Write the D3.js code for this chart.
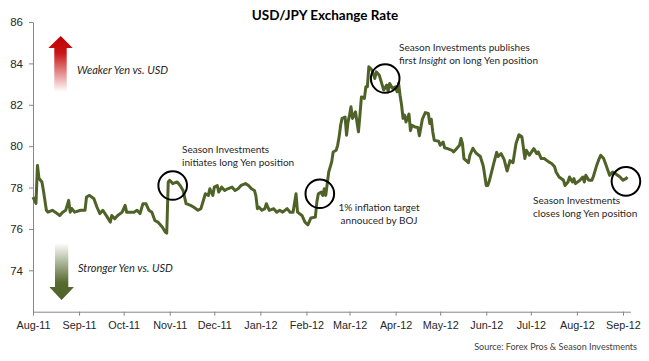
<!DOCTYPE html>
<html>
<head>
<meta charset="utf-8">
<script src="https://cdn.jsdelivr.net/npm/d3@7"></script>
<style>
  body { margin: 0; background: #fff; }
  svg { display: block; font-family: Lato, "Open Sans", sans-serif; }
  .axis path, .axis line { stroke: #868686; }
  .axis text { fill: #262626; font-size: 10.8px; }
</style>
</head>
<body>
<div id="chart"></div>
<script>
const width = 649, height = 361;

// daily USD/JPY closes
const dates = ["2011-08-01","2011-08-03","2011-08-04","2011-08-05","2011-08-07","2011-08-08","2011-08-10","2011-08-11","2011-08-14","2011-08-16","2011-08-19","2011-08-21","2011-08-23","2011-08-25","2011-08-26","2011-08-27","2011-08-29","2011-09-02","2011-09-05","2011-09-06","2011-09-08","2011-09-11","2011-09-13","2011-09-15","2011-09-17","2011-09-20","2011-09-22","2011-09-23","2011-09-25","2011-09-27","2011-09-30","2011-10-02","2011-10-03","2011-10-05","2011-10-08","2011-10-10","2011-10-12","2011-10-14","2011-10-16","2011-10-18","2011-10-20","2011-10-22","2011-10-24","2011-10-27","2011-10-29","2011-10-30","2011-10-31","2011-11-01","2011-11-03","2011-11-06","2011-11-08","2011-11-10","2011-11-11","2011-11-12","2011-11-15","2011-11-17","2011-11-20","2011-11-22","2011-11-25","2011-11-27","2011-11-28","2011-11-30","2011-12-01","2011-12-03","2011-12-04","2011-12-06","2011-12-08","2011-12-10","2011-12-13","2011-12-15","2011-12-17","2011-12-19","2011-12-22","2011-12-24","2011-12-26","2011-12-28","2011-12-29","2011-12-30","2011-12-31","2012-01-02","2012-01-04","2012-01-05","2012-01-07","2012-01-10","2012-01-12","2012-01-14","2012-01-16","2012-01-19","2012-01-21","2012-01-23","2012-01-25","2012-01-26","2012-01-29","2012-01-31","2012-02-02","2012-02-04","2012-02-07","2012-02-08","2012-02-09","2012-02-11","2012-02-12","2012-02-13","2012-02-14","2012-02-16","2012-02-18","2012-02-19","2012-02-21","2012-02-22","2012-02-23","2012-02-24","2012-02-25","2012-02-27","2012-02-28","2012-02-29","2012-03-01","2012-03-02","2012-03-03","2012-03-05","2012-03-06","2012-03-07","2012-03-08","2012-03-09","2012-03-11","2012-03-12","2012-03-13","2012-03-14","2012-03-16","2012-03-18","2012-03-19","2012-03-21","2012-03-23","2012-03-24","2012-03-26","2012-03-27","2012-03-28","2012-03-30","2012-04-01","2012-04-02","2012-04-03","2012-04-04","2012-04-05","2012-04-06","2012-04-07","2012-04-08","2012-04-10","2012-04-11","2012-04-12","2012-04-14","2012-04-16","2012-04-17","2012-04-19","2012-04-21","2012-04-23","2012-04-24","2012-04-25","2012-04-26","2012-04-27","2012-04-30","2012-05-01","2012-05-03","2012-05-04","2012-05-06","2012-05-09","2012-05-10","2012-05-12","2012-05-14","2012-05-15","2012-05-16","2012-05-17","2012-05-20","2012-05-21","2012-05-23","2012-05-25","2012-05-28","2012-05-30","2012-06-01","2012-06-02","2012-06-03","2012-06-06","2012-06-08","2012-06-09","2012-06-11","2012-06-13","2012-06-15","2012-06-17","2012-06-19","2012-06-21","2012-06-23","2012-06-25","2012-06-27","2012-06-28","2012-06-30","2012-07-03","2012-07-05","2012-07-06","2012-07-08","2012-07-10","2012-07-13","2012-07-15","2012-07-17","2012-07-18","2012-07-20","2012-07-23","2012-07-24","2012-07-26","2012-07-27","2012-07-29","2012-07-30","2012-07-31","2012-08-03","2012-08-05","2012-08-06","2012-08-07","2012-08-09","2012-08-11","2012-08-12","2012-08-14","2012-08-16","2012-08-17","2012-08-19","2012-08-21","2012-08-23","2012-08-25","2012-08-27","2012-08-30","2012-09-01","2012-09-03","2012-09-04"];
const rates = [77.54,77.23,79.07,78.45,78.27,77.86,76.90,76.81,76.90,76.81,76.65,76.81,76.90,77.38,76.81,76.99,76.81,76.90,76.90,77.54,77.62,77.46,77.06,76.74,76.90,76.57,76.33,76.65,76.49,76.65,76.81,77.14,76.81,76.81,76.81,76.90,76.74,77.22,77.22,76.90,76.81,76.41,76.33,76.09,75.85,75.80,78.27,78.35,78.19,78.27,78.10,77.86,77.54,77.22,77.14,77.06,76.90,76.98,77.70,77.62,77.94,77.62,78.02,78.10,77.78,78.02,77.86,77.94,78.02,77.86,77.94,78.10,78.19,78.10,77.94,77.86,77.60,76.98,77.06,76.90,76.98,77.22,76.90,76.98,76.81,76.90,76.81,76.98,76.81,76.81,77.70,76.81,76.65,76.33,76.20,76.53,76.57,77.30,77.70,77.78,77.62,77.94,77.62,78.75,79.24,79.72,79.80,80.04,80.45,81.01,81.34,81.41,80.53,81.17,81.50,81.90,81.34,81.66,81.17,80.69,81.50,82.38,82.31,82.87,82.87,83.84,83.68,83.27,83.59,83.43,82.95,82.71,82.95,82.63,83.03,82.79,82.87,82.63,83.03,82.46,82.00,81.34,81.50,81.17,81.55,80.75,81.01,80.93,80.90,80.50,81.30,81.62,81.58,81.09,81.30,80.70,80.28,80.24,80.04,80.20,79.92,79.88,79.80,79.72,79.88,80.04,80.37,80.12,79.40,79.20,79.56,79.90,79.68,79.50,79.04,78.10,78.10,78.30,79.16,79.70,79.50,79.64,79.36,78.80,79.30,79.20,80.12,80.55,80.45,79.40,79.80,79.56,79.88,79.64,79.72,79.40,79.40,79.24,79.16,79.00,78.75,78.51,78.35,78.10,78.27,78.51,78.27,78.43,78.19,78.35,78.51,78.27,78.59,78.35,78.35,78.51,79.00,79.40,79.56,79.40,79.00,78.59,78.75,78.67,78.51,78.35,78.43,78.51];

const yTicks = [74, 76, 78, 80, 82, 84, 86];

// the four circled events
const eventDates = ["2011-11-03", "2012-02-10", "2012-03-25", "2012-09-03"];
const eventRates = [78.1, 77.7, 83.27, 78.3];
const eventLabels = [
    ["Season Investments", "initiates long Yen position"],
    ["1% inflation target", "annouced by BOJ"],
    ["Season Investments publishes", "first |Insight| on long Yen position"],
    ["Season Investments", "closes long Yen position"]
];

const parse = d3.timeParse("%Y-%m-%d");
const data = dates.map((d, i) => ({date: parse(d), rate: rates[i]}));

const svg = d3.select("#chart").append("svg")
    .attr("width", width)
    .attr("height", height);

const x = d3.scaleTime()
    .domain([parse("2011-08-01"), parse("2012-09-06")])
    .range([33, 630.4]);

const y = d3.scaleLinear()
    .domain([72, 86])
    .range([311.7, 22]);

// gradients for the two arrows
const defs = svg.append("defs");
const gUp = defs.append("linearGradient").attr("id", "gUp")
    .attr("x1", 0).attr("y1", 0).attr("x2", 0).attr("y2", 1);
gUp.append("stop").attr("offset", "0%").attr("stop-color", "#c00000");
gUp.append("stop").attr("offset", "30%").attr("stop-color", "#c81515");
gUp.append("stop").attr("offset", "100%").attr("stop-color", "#ffffff");
const gDown = defs.append("linearGradient").attr("id", "gDown")
    .attr("x1", 0).attr("y1", 0).attr("x2", 0).attr("y2", 1);
gDown.append("stop").attr("offset", "0%").attr("stop-color", "#ffffff");
gDown.append("stop").attr("offset", "70%").attr("stop-color", "#56692e");
gDown.append("stop").attr("offset", "100%").attr("stop-color", "#4f6228");

// axes
svg.append("g")
    .attr("class", "axis")
    .attr("transform", "translate(33,0)")
    .call(d3.axisLeft(y).tickValues(yTicks).tickFormat(d3.format("d")).tickSize(4).tickSizeOuter(0).tickPadding(6))
    .selectAll("text").style("font-size", "11.5px");

svg.append("g")
    .attr("class", "axis")
    .attr("transform", "translate(0,311.7)")
    .call(d3.axisBottom(x).ticks(d3.timeMonth.every(1)).tickFormat(d3.timeFormat("%b-%y")).tickSize(4).tickSizeOuter(0).tickPadding(6));

// arrows
svg.append("path")
    .attr("d", "M60.7,36 L72.7,48 L66.7,48 L66.7,92 L54.3,92 L54.3,48 L48.3,48 Z")
    .attr("fill", "url(#gUp)");
svg.append("path")
    .attr("d", "M55,243 L68.3,243 L68.3,287 L74,287 L61.6,300 L49.3,287 L55,287 Z")
    .attr("fill", "url(#gDown)");

svg.append("text")
    .attr("x", 77).attr("y", 73.5)
    .attr("font-size", "11px").attr("font-style", "italic").attr("fill", "#262626")
    .text("Weaker Yen vs. USD");
svg.append("text")
    .attr("x", 78).attr("y", 272)
    .attr("font-size", "11px").attr("font-style", "italic").attr("fill", "#262626")
    .text("Stronger Yen vs. USD");

// the rate line
const line = d3.line()
    .x(d => x(d.date))
    .y(d => y(d.rate));

svg.append("path")
    .datum(data)
    .attr("fill", "none")
    .attr("stroke", "#4f6228")
    .attr("stroke-width", 3)
    .attr("stroke-linejoin", "round")
    .attr("d", line);

// event circles
svg.selectAll(".event")
    .data(eventDates)
    .join("circle")
    .attr("class", "event")
    .attr("cx", d => x(parse(d)))
    .attr("cy", (d, i) => y(eventRates[i]))
    .attr("r", 14.3)
    .attr("fill", "none")
    .attr("stroke", "#000")
    .attr("stroke-width", 2);

// event labels
const labelPos = [
    {x: 182, y: 153, anchor: "start"},
    {x: 379, y: 211, anchor: "middle"},
    {x: 399, y: 50.5, anchor: "start"},
    {x: 533, y: 203.5, anchor: "start"}
];
eventLabels.forEach((lines, i) => {
    const t = svg.append("text")
        .attr("x", labelPos[i].x)
        .attr("y", labelPos[i].y)
        .attr("text-anchor", labelPos[i].anchor)
        .attr("font-size", "10px")
        .attr("fill", "#262626");
    lines.forEach((l, j) => {
        const ts = t.append("tspan")
            .attr("x", labelPos[i].x)
            .attr("dy", j === 0 ? 0 : 13.2);
        l.split("|").forEach((part, k) => {
            ts.append("tspan")
                .attr("font-style", k % 2 ? "italic" : null)
                .text(part);
        });
    });
});

svg.append("text")
    .attr("x", 325).attr("y", 20)
    .attr("text-anchor", "middle")
    .attr("font-size", "13.5px").attr("font-weight", "bold").attr("fill", "#000")
    .text("USD/JPY Exchange Rate");

svg.append("text")
    .attr("x", 637).attr("y", 349.5)
    .attr("text-anchor", "end")
    .attr("font-size", "9px").attr("fill", "#404040")
    .text("Source: Forex Pros & Season Investments");
</script>
</body>
</html>
